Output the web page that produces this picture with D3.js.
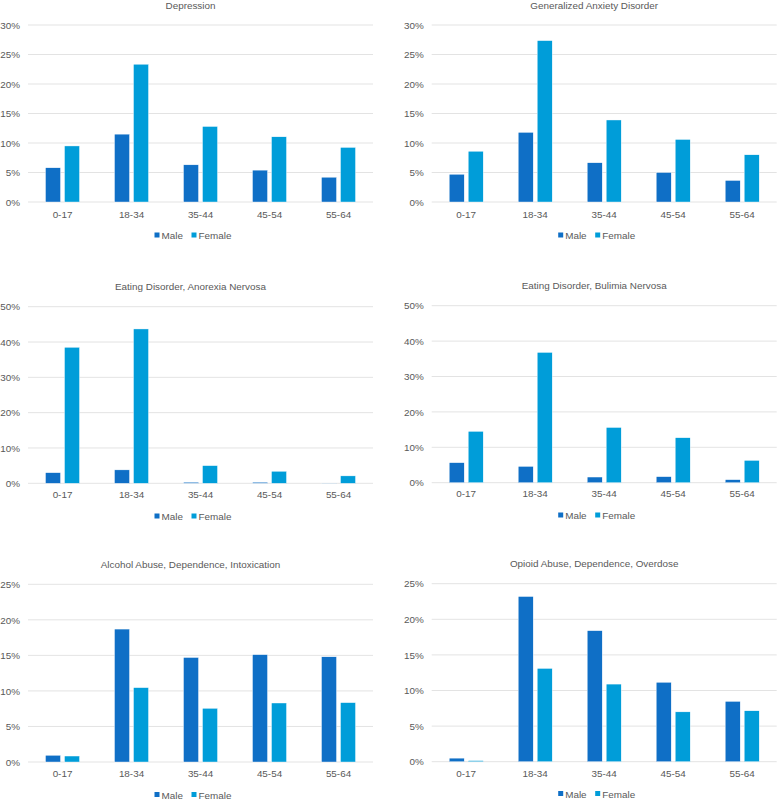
<!DOCTYPE html>
<html>
<head>
<meta charset="utf-8">
<script src="https://cdn.jsdelivr.net/npm/d3@7"></script>
<style>
  body { margin: 0; background: #fff; }
  svg { display: block; font-family: "Liberation Sans", Arial, sans-serif; }
</style>
</head>
<body>
<svg id="chart" width="777" height="800"></svg>
<script>
// age groups and series
const ageGroups = ["0-17", "18-34", "35-44", "45-54", "55-64"];
const seriesNames = ["Male", "Female"];
const titles = [
  "Depression",
  "Generalized Anxiety Disorder",
  "Eating Disorder, Anorexia Nervosa",
  "Eating Disorder, Bulimia Nervosa",
  "Alcohol Abuse, Dependence, Intoxication",
  "Opioid Abuse, Dependence, Overdose"
];
// percentages
const maleValues = [
  [5.8, 11.5, 6.3, 5.4, 4.2],
  [4.7, 11.8, 6.65, 5.0, 3.65],
  [3.0, 3.8, 0.3, 0.3, 0.05],
  [5.65, 4.6, 1.6, 1.7, 0.85],
  [0.94, 18.7, 14.7, 15.1, 14.8],
  [0.5, 23.2, 18.4, 11.15, 8.47]
];
const femaleValues = [
  [9.5, 23.35, 12.8, 11.05, 9.25],
  [8.6, 27.35, 13.9, 10.6, 8.0],
  [38.5, 43.7, 5.0, 3.4, 2.1],
  [14.5, 36.8, 15.6, 12.7, 6.3],
  [0.84, 10.46, 7.55, 8.3, 8.35],
  [0.15, 13.1, 10.9, 7.0, 7.15]
];
const yMax = [30, 30, 50, 50, 25, 25];
const yStep = [5, 5, 10, 10, 5, 5];

const colors = ["#0F6FC6", "#009DD9"];
const textColor = "#595959";
const fontSize = "9.9px";

const svg = d3.select("#chart");

// panel frames
const frames = [
  { x: 28, titleY: 9, top: 25, bottom: 202, labelY: 219, legendY: 239 },
  { x: 431.7, titleY: 9, top: 25, bottom: 202, labelY: 219, legendY: 239 },
  { x: 28, titleY: 289.5, top: 306.7, bottom: 483.3, labelY: 499, legendY: 520 },
  { x: 431.7, titleY: 289, top: 305.7, bottom: 482.7, labelY: 498, legendY: 519 },
  { x: 28, titleY: 568, top: 584.3, bottom: 762, labelY: 778, legendY: 798.5 },
  { x: 431.7, titleY: 567, top: 583.7, bottom: 761.7, labelY: 777.5, legendY: 797.5 }
];
const plotW = 345;

titles.forEach((title, i) => {
  const f = frames[i];
  const g = svg.append("g");

  const x = d3.scaleBand().domain(ageGroups).range([f.x, f.x + plotW]);
  const y = d3.scaleLinear().domain([0, yMax[i]]).range([f.bottom, f.top]);
  const ticks = d3.range(0, yMax[i] + 0.001, yStep[i]);

  // gridlines
  g.selectAll(".grid")
    .data(ticks)
    .enter()
    .append("line")
    .attr("x1", f.x)
    .attr("x2", f.x + plotW)
    .attr("y1", d => y(d))
    .attr("y2", d => y(d))
    .attr("stroke", "#D9D9D9")
    .attr("stroke-width", 0.75);

  // y axis labels
  const yAxis = d3.axisLeft(y).tickValues(ticks).tickSize(0).tickPadding(8)
    .tickFormat(d => d + "%");
  g.append("g")
    .attr("transform", `translate(${f.x},0)`)
    .call(yAxis)
    .call(a => a.select(".domain").remove())
    .selectAll("text")
    .attr("fill", textColor)
    .style("font-size", fontSize);

  // x labels
  const xAxis = d3.axisBottom(x).tickSize(0).tickPadding(0);
  g.append("g")
    .attr("transform", `translate(0,${f.labelY - 8})`)
    .call(xAxis)
    .call(a => a.select(".domain").remove())
    .selectAll("text")
    .attr("fill", textColor)
    .style("font-size", fontSize);

  // bars
  const barW = 15, gap = 4;
  const sub = d3.scaleOrdinal().domain(seriesNames)
    .range([-(barW + gap / 2), gap / 2]);
  [maleValues[i], femaleValues[i]].forEach((vals, s) => {
    g.selectAll(".bar" + s)
      .data(vals)
      .enter()
      .append("rect")
      .attr("x", (d, k) => x(ageGroups[k]) + x.bandwidth() / 2 + sub(seriesNames[s]))
      .attr("y", d => y(d))
      .attr("width", barW)
      .attr("height", d => f.bottom - y(d))
      .attr("fill", colors[s])
      .attr("stroke", "#fff")
      .attr("stroke-width", 0.4);
  });

  // title
  g.append("text")
    .attr("x", f.x + plotW / 2 - 10)
    .attr("y", f.titleY)
    .attr("text-anchor", "middle")
    .attr("fill", textColor)
    .style("font-size", fontSize)
    .text(title);

  // legend
  const cx = f.x + plotW / 2 - 10;
  const legend = g.append("g").attr("transform", `translate(${cx - 36},${f.legendY})`);
  const offsets = [0, 37];
  seriesNames.forEach((name, s) => {
    legend.append("rect")
      .attr("x", offsets[s])
      .attr("y", -6.5)
      .attr("width", 5)
      .attr("height", 5)
      .attr("fill", colors[s]);
    legend.append("text")
      .attr("x", offsets[s] + 7)
      .attr("y", 0)
      .attr("fill", textColor)
      .style("font-size", fontSize)
      .text(name);
  });
});
</script>
</body>
</html>
